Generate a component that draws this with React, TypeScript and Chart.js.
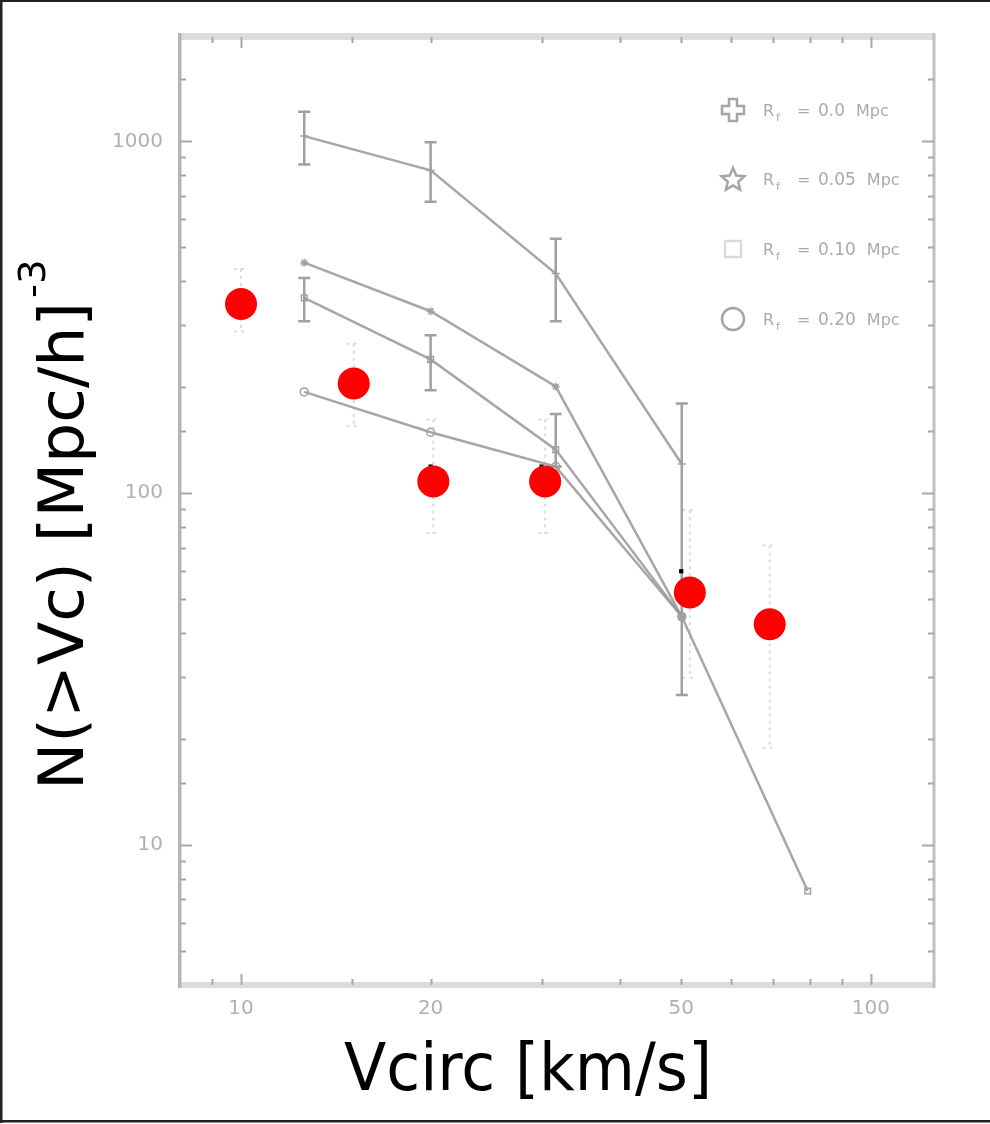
import React, { useEffect, useRef } from "react";
import { Chart, registerables } from "chart.js";

Chart.register(...registerables);

// ---- data ----
const simX = [12.6, 20.0, 31.6, 50.1, 79.4];

const rf00Y = [1035, 827, 421, 121];
const rf00Lo = [860, 674, 308, 26.7];
const rf00Hi = [1214, 995, 529, 180];

const rf005Y = [452, 329, 201, 44.6];

const rf010Y = [359, 240, 133, 44.6, 7.4];
const rf010Lo = [308, 196, 119, null, null];
const rf010Hi = [409, 281, 168, null, null];

const rf020Y = [194, 149, 119, 44.6];

const obsX = [10, 15.1, 20.2, 30.4, 51.6, 69.1];
const obsY = [345, 205, 108, 108, 52.2, 42.4];
const obsLo = [288, 155, 77, 77, 29.9, 18.9];
const obsHi = [434, 266, 162, 162, 89.5, 71];

const hiddenX = [20, 30, 50];
const hiddenY = [119, 119, 60];

const xTickLabels = [10, 20, 50, 100];
const yTickLabels = [10, 100, 1000];
const legendValues = ["0.0", "0.05", "0.10", "0.20"];
const xTitle = "Vcirc [km/s]";
const yTitle = "N(>Vc) [Mpc/h]";
const yTitleSup = "-3";

const toPts = (xs: number[], ys: number[]) => ys.map((y, i) => ({ x: xs[i], y }));

const isPow10 = (v: number) => {
  const l = Math.log10(v);
  return Math.abs(l - Math.round(l)) < 1e-6;
};

const decorPlugin = {
  id: "decor",
  beforeDraw(chart: any) {
    const ctx = chart.ctx;
    ctx.save();
    ctx.fillStyle = "#ffffff";
    ctx.fillRect(0, 0, chart.width, chart.height);
    ctx.fillStyle = "#222222";
    ctx.fillRect(0, 0, chart.width, 2);
    ctx.fillRect(0, 0, 2.5, 1123);
    ctx.fillRect(0, 1120, chart.width, 2.5);
    ctx.restore();
  },
  beforeDatasetsDraw(chart: any) {
    const ctx = chart.ctx;
    const xs = chart.scales.x;
    const ys = chart.scales.y;
    chart.data.datasets.forEach((ds: any) => {
      const eb = ds.errorBars;
      if (!eb) return;
      ctx.save();
      ctx.strokeStyle = eb.color;
      ctx.lineWidth = eb.width;
      ctx.setLineDash(eb.dash || []);
      const cap = eb.cap;
      ds.data.forEach((p: any, j: number) => {
        const lo = eb.lo[j];
        const hi = eb.hi[j];
        if (lo == null || hi == null) return;
        const px = xs.getPixelForValue(p.x);
        const y1 = ys.getPixelForValue(hi);
        const y2 = ys.getPixelForValue(lo);
        ctx.beginPath();
        ctx.moveTo(px, y1);
        ctx.lineTo(px, y2);
        ctx.stroke();
        ctx.beginPath();
        ctx.moveTo(px - cap, y1);
        ctx.lineTo(px + cap, y1);
        ctx.moveTo(px - cap, y2);
        ctx.lineTo(px + cap, y2);
        ctx.stroke();
      });
      ctx.restore();
    });
  },
  afterDraw(chart: any) {
    const ctx = chart.ctx;
    const { left, right, top, bottom } = chart.chartArea;
    const xs = chart.scales.x;
    const ys = chart.scales.y;
    ctx.save();
    // frame
    ctx.fillStyle = "#dcdcdc";
    ctx.fillRect(left, top - 4, right - left, 7);
    ctx.fillRect(left, bottom - 3, right - left, 6);
    ctx.fillStyle = "#b5b5b5";
    ctx.fillRect(left - 2, top - 4, 3.5, bottom - top + 7);
    ctx.fillStyle = "#c0c0c0";
    ctx.fillRect(right - 1.5, top - 4, 3, bottom - top + 7);
    // inward ticks
    ctx.strokeStyle = "#a8a8a8";
    ctx.lineWidth = 2;
    ys.ticks.forEach((t: any) => {
      const v = t.value;
      if (v <= ys.min * 1.0001 || v >= ys.max * 0.9999) return;
      const len = isPow10(v) ? 12 : 6;
      const py = Math.round(ys.getPixelForValue(v)) + 0.5;
      ctx.beginPath();
      ctx.moveTo(left, py);
      ctx.lineTo(left + len, py);
      ctx.moveTo(right, py);
      ctx.lineTo(right - len, py);
      ctx.stroke();
    });
    xs.ticks.forEach((t: any) => {
      const v = t.value;
      if (v <= xs.min * 1.0001 || v >= xs.max * 0.9999) return;
      const len = isPow10(v) ? 11 : 6;
      const px = Math.round(xs.getPixelForValue(v)) + 0.5;
      ctx.beginPath();
      ctx.moveTo(px, bottom);
      ctx.lineTo(px, bottom - len);
      ctx.moveTo(px, top);
      ctx.lineTo(px, top + len);
      ctx.stroke();
    });

    // legend
    const rows = [110, 179, 249, 319];
    const mx = 733;
    ctx.strokeStyle = "#a5a5a5";
    ctx.lineWidth = 2.5;
    // cross (plus outline)
    {
      const cy = rows[0];
      ctx.beginPath();
      const a = 4, b = 11;
      ctx.moveTo(mx - a, cy - b);
      ctx.lineTo(mx + a, cy - b);
      ctx.lineTo(mx + a, cy - a);
      ctx.lineTo(mx + b, cy - a);
      ctx.lineTo(mx + b, cy + a);
      ctx.lineTo(mx + a, cy + a);
      ctx.lineTo(mx + a, cy + b);
      ctx.lineTo(mx - a, cy + b);
      ctx.lineTo(mx - a, cy + a);
      ctx.lineTo(mx - b, cy + a);
      ctx.lineTo(mx - b, cy - a);
      ctx.lineTo(mx - a, cy - a);
      ctx.closePath();
      ctx.stroke();
    }
    // star
    {
      const cy = rows[1] + 1;
      ctx.beginPath();
      for (let k = 0; k < 10; k++) {
        const r = k % 2 === 0 ? 12 : 5.5;
        const ang = -Math.PI / 2 + (k * Math.PI) / 5;
        const px = mx + r * Math.cos(ang);
        const py = cy + r * Math.sin(ang);
        if (k === 0) ctx.moveTo(px, py);
        else ctx.lineTo(px, py);
      }
      ctx.closePath();
      ctx.stroke();
    }
    // square
    {
      const cy = rows[2];
      ctx.strokeStyle = "#dadada";
      ctx.strokeRect(mx - 8, cy - 8, 16, 16);
    }
    // circle
    {
      const cy = rows[3];
      ctx.strokeStyle = "#a5a5a5";
      ctx.beginPath();
      ctx.arc(mx, cy, 11, 0, Math.PI * 2);
      ctx.stroke();
    }
    ctx.fillStyle = "#aaaaaa";
    ctx.textBaseline = "alphabetic";
    ctx.textAlign = "left";
    legendValues.forEach((val, i) => {
      const y = rows[i] + 6;
      ctx.font = '16px "DejaVu Sans"';
      ctx.fillText("R", 763, y);
      ctx.font = '11px "DejaVu Sans"';
      ctx.fillText("f", 776, y + 5);
      ctx.font = '16px "DejaVu Sans"';
      ctx.fillText("=", 797, y);
      ctx.font = '17px "DejaVu Sans"';
      ctx.fillText(val, 818, y);
      const w = ctx.measureText(val).width;
      ctx.font = '16px "DejaVu Sans"';
      ctx.fillText("Mpc", 818 + w + 11, y);
    });

    // axis titles
    ctx.fillStyle = "#000000";
    ctx.font = '66px "DejaVu Sans"';
    ctx.textAlign = "center";
    {
      const w = ctx.measureText(xTitle).width;
      ctx.save();
      ctx.translate(528, 1090);
      ctx.scale(368 / w, 1);
      ctx.fillText(xTitle, 0, 0);
      ctx.restore();
    }
    {
      ctx.save();
      ctx.translate(83, 790);
      ctx.rotate(-Math.PI / 2);
      ctx.font = '62px "DejaVu Sans"';
      ctx.textAlign = "left";
      const mw = ctx.measureText(yTitle).width;
      ctx.scale(488 / mw, 1);
      ctx.fillText(yTitle, 0, 0);
      ctx.font = '38px "DejaVu Sans"';
      ctx.fillText(yTitleSup, mw + 4, -38);
      ctx.restore();
    }
    ctx.restore();
  },
};

export default function App() {
  const ref = useRef<HTMLCanvasElement | null>(null);
  useEffect(() => {
    if (!ref.current) return;
    const simLine = {
      borderColor: "rgba(150,150,150,0.85)",
      borderWidth: 2.5,
      pointRadius: 4,
      pointBorderColor: "#a0a0a0",
      pointBackgroundColor: "rgba(255,255,255,0)",
      pointBorderWidth: 1.5,
      showLine: true,
      fill: false,
      tension: 0,
      order: 3,
    };
    const chart = new Chart(ref.current, {
      type: "scatter",
      data: {
        datasets: [
          {
            label: "observed",
            data: toPts(obsX, obsY),
            backgroundColor: "#ff0000",
            borderWidth: 0,
            pointRadius: 16,
            order: 0,
            errorBars: { lo: obsLo, hi: obsHi, color: "#dcdcdc", width: 2, dash: [3, 4], cap: 7 },
          } as any,
          {
            label: "original points",
            data: toPts(hiddenX, hiddenY),
            backgroundColor: "#000000",
            borderWidth: 0,
            pointStyle: "rect",
            pointRadius: 3,
            order: 1,
          },
          {
            ...simLine,
            label: "Rf = 0.0 Mpc",
            data: toPts(simX, rf00Y),
            pointStyle: "cross",
            errorBars: { lo: rf00Lo, hi: rf00Hi, color: "#a0a0a0", width: 2.5, cap: 6 },
          } as any,
          {
            ...simLine,
            label: "Rf = 0.05 Mpc",
            data: toPts(simX, rf005Y),
            pointStyle: "star",
          },
          {
            ...simLine,
            label: "Rf = 0.10 Mpc",
            data: toPts(simX, rf010Y),
            pointStyle: "rect",
            errorBars: { lo: rf010Lo, hi: rf010Hi, color: "#a0a0a0", width: 2.5, cap: 6 },
          } as any,
          {
            ...simLine,
            label: "Rf = 0.20 Mpc",
            data: toPts(simX, rf020Y),
            pointStyle: "circle",
          },
        ],
      },
      options: {
        animation: false,
        responsive: false,
        events: [],
        layout: { padding: { left: 0, right: 56, top: 37, bottom: 0 } },
        plugins: { legend: { display: false }, tooltip: { enabled: false } },
        scales: {
          x: {
            type: "logarithmic",
            min: 8,
            max: 126,
            grid: { display: false, drawTicks: false },
            border: { display: false },
            ticks: {
              autoSkip: false,
              maxRotation: 0,
              padding: 12,
              color: "#b0b0b0",
              font: { family: "DejaVu Sans", size: 20 },
              callback: (v: any) => {
                const n = Number(v);
                return xTickLabels.some((t) => Math.abs(t - n) < 1e-6) ? String(Math.round(n)) : "";
              },
            },
            afterFit: (s: any) => {
              s.height = 139;
            },
          },
          y: {
            type: "logarithmic",
            min: 4,
            max: 1980,
            grid: { display: false, drawTicks: false },
            border: { display: false },
            ticks: {
              autoSkip: false,
              padding: 17,
              color: "#b0b0b0",
              font: { family: "DejaVu Sans", size: 20 },
              callback: (v: any) => {
                const n = Number(v);
                return yTickLabels.some((t) => Math.abs(t - n) < 1e-6) ? String(Math.round(n)) : "";
              },
            },
            afterFit: (s: any) => {
              s.width = 180;
            },
          },
        },
      } as any,
      plugins: [decorPlugin],
    });
    return () => chart.destroy();
  }, []);
  return (
    <div style={{ position: "absolute", left: 0, top: 0, width: 990, height: 1124 }}>
      <canvas ref={ref} width={990} height={1124} style={{ width: 990, height: 1124, display: "block" }} />
    </div>
  );
}
